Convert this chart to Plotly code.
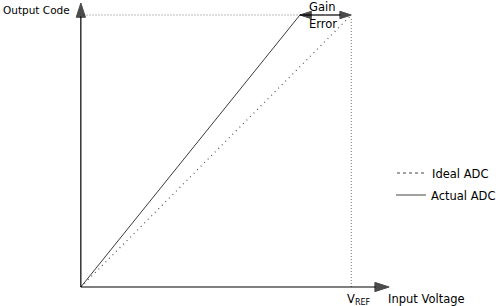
import plotly.graph_objects as go

# Normalized data: input voltage (VREF = 1), output code (full scale = 1)
vin_ideal = [0.0, 1.0]
code_ideal = [0.0, 1.0]
vin_actual = [0.0, 0.81]
code_actual = [0.0, 1.0]
vref = 1.0
full_scale = 1.0
x_axis_tip = 1.14
y_axis_tip = 1.044

FONT = "DejaVu Sans"
FS = 11.5
W, H = 501, 306
X0, XS = 81, 271   # pixel of x=0, pixels per unit
Y0, YS = 287, 272

fig = go.Figure()

def line_trace(x, y, color, width, dash=None, arrow_end=False, arrow_size=10):
    kw = dict(x=x, y=y, showlegend=False, hoverinfo="skip",
              line=dict(color=color, width=width, dash=dash))
    if arrow_end:
        kw["mode"] = "lines+markers"
        kw["marker"] = dict(symbol=["circle"] * (len(x) - 1) + ["arrow"],
                            size=[0] * (len(x) - 1) + [arrow_size],
                            angleref="previous", color=color,
                            line=dict(width=1, color=color))
    else:
        kw["mode"] = "lines"
    fig.add_trace(go.Scatter(**kw))

# Ideal ADC (dotted in plot)
line_trace(vin_ideal, code_ideal, "#555555", 1.2, "1px,4px")
# Actual ADC
line_trace(vin_actual, code_actual, "#3a3a3a", 1)
# Full-scale dotted guide (horizontal) and VREF dotted guide (vertical)
line_trace([0.01, vin_actual[-1]], [full_scale, full_scale], "#777777", 1, "1px,2px")
line_trace([vref, vref], [0, full_scale - 0.012], "#777777", 1, "1px,2px")

# Axes with arrowheads
line_trace([0, x_axis_tip], [0, 0], "black", 1.2, arrow_end=True, arrow_size=15)
line_trace([0, 0], [0, y_axis_tip], "black", 1.2, arrow_end=True, arrow_size=15)

# Gain error double arrow
mid = (vin_actual[-1] + vref) / 2
line_trace([mid, vin_actual[-1]], [full_scale, full_scale], "black", 1.2, arrow_end=True, arrow_size=12)
line_trace([mid, vref], [full_scale, full_scale], "black", 1.2, arrow_end=True, arrow_size=12)

# Legend entries
fig.add_trace(go.Scatter(x=[None], y=[None], mode="lines", name="Ideal ADC",
                         line=dict(color="#444444", width=1, dash="3px,3px"), legend="legend"))
fig.add_trace(go.Scatter(x=[None], y=[None], mode="lines", name="Actual ADC",
                         line=dict(color="#444444", width=1), legend="legend2"))

annotations = []

def px_x(p):
    return (p - X0) / XS

def px_y(p):
    return (Y0 - p) / YS

def label(text, x, y, xanchor="left", size=FS):
    annotations.append(dict(x=px_x(x), y=px_y(y), xref="x", yref="y", text=text, showarrow=False,
                            xanchor=xanchor, yanchor="middle",
                            font=dict(family=FONT, size=size, color="black")))

label("Output Code", 0.5, 10, size=10.5)
label("Gain", 323, 7, "center")
label("Error", 324, 24, "center")
label("V<sub>REF</sub>", 346, 299)
label("Input Voltage", 387, 299)

fig.update_layout(
    width=W, height=H, margin=dict(l=0, r=0, t=0, b=0),
    paper_bgcolor="white", plot_bgcolor="white",
    xaxis=dict(range=[px_x(0), px_x(W)], visible=False, fixedrange=True),
    yaxis=dict(range=[px_y(H), px_y(0)], visible=False, fixedrange=True),
    annotations=annotations,
    font=dict(family=FONT, size=FS, color="black"),
    legend=dict(x=392 / W, y=1 - 173 / H, xanchor="left", yanchor="middle",
                bgcolor="rgba(0,0,0,0)", font=dict(family=FONT, size=FS)),
    legend2=dict(x=392 / W, y=1 - 195 / H, xanchor="left", yanchor="middle",
                 bgcolor="rgba(0,0,0,0)", font=dict(family=FONT, size=FS)),
)

fig.write_html("out.html")
